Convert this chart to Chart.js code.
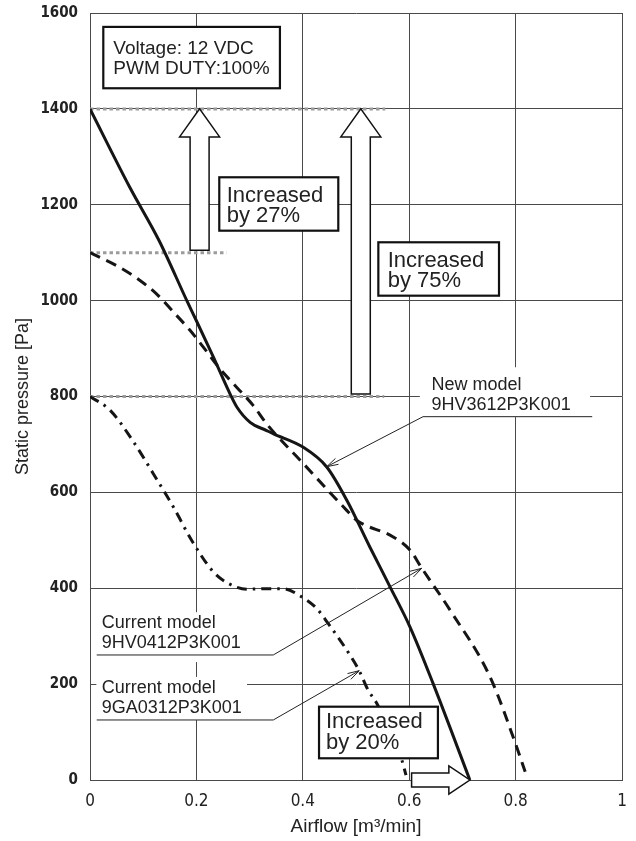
<!DOCTYPE html>
<html>
<head>
<meta charset="utf-8">
<title>Static pressure vs airflow</title>
<script src="https://cdn.jsdelivr.net/npm/chart.js@4.4.0/dist/chart.umd.min.js"></script>
<style>
  html, body { margin: 0; padding: 0; background: #fff; }
  canvas { display: block; }
</style>
</head>
<body>
<canvas id="pq-chart" width="636" height="841"></canvas>
<script>
// Axis ticks
const xTicks = [0, 0.2, 0.4, 0.6, 0.8, 1];
const yTicks = [0, 200, 400, 600, 800, 1000, 1200, 1400, 1600];

// New model 9HV3612P3K001 (solid)
const newModelFlow = [0, 0.075, 0.13, 0.182, 0.2, 0.232, 0.263, 0.276, 0.301, 0.332, 0.345, 0.401, 0.445, 0.483, 0.526, 0.564, 0.602, 0.645, 0.714];
const newModelPressure = [1400, 1236, 1125, 1000, 958, 882, 806, 778, 746, 729, 722, 694, 653, 583, 486, 403, 318, 201, 0];

// Current model 9HV0412P3K001 (dashed)
const hvCurrentFlow = [0, 0.05, 0.094, 0.125, 0.157, 0.188, 0.213, 0.244, 0.276, 0.307, 0.332, 0.401, 0.483, 0.501, 0.57, 0.602, 0.623, 0.677, 0.752, 0.802, 0.818];
const hvCurrentPressure = [1100, 1073, 1042, 1014, 976, 938, 903, 858, 819, 781, 743, 660, 562, 542, 507, 479, 443, 354, 215, 69, 17];

// Current model 9GA0312P3K001 (dash-dot)
const gaCurrentFlow = [0, 0.038, 0.082, 0.119, 0.157, 0.191, 0.232, 0.26, 0.295, 0.332, 0.363, 0.395, 0.426, 0.448, 0.468, 0.489, 0.506, 0.523, 0.539, 0.586, 0.594];
const gaCurrentPressure = [800, 771, 705, 639, 569, 500, 434, 410, 398, 399, 399, 384, 358, 326, 295, 260, 228, 187, 160, 42, 10];

// Reference pressures marked with grey dotted lines: [pressure, flow where the line stops]
const guideLines = [[1400, 0.555], [1100, 0.257], [800, 0.553]];

const labelFont = '"Liberation Sans", Arial, sans-serif';
const tickFont = '"Liberation Sans Narrow", "DejaVu Sans Condensed", "Liberation Sans", sans-serif';

function toPoints(xs, ys) {
    return xs.map((v, i) => ({ x: v, y: ys[i] }));
}

// Annotations, anchored in data units
const modelLabels = [
    { lines: ['New model', '9HV3612P3K001'], x: 0.642, base: [813.6, 771.8], bg: [0.62, 0.94, 861, 757],
      line: [0.626, 0.944, 757.9], target: [0.445, 653.6] },
    { lines: ['Current model', '9HV0412P3K001'], x: 0.022, base: [316.4, 274.7], bg: [0.012, 0.30, 350, 246],
      line: [0.0126, 0.3445, 260.8], target: [0.6235, 441.6] },
    { lines: ['Current model', '9GA0312P3K001'], x: 0.022, base: [180.9, 139.1], bg: [0.012, 0.2951, 215, 125],
      line: [0.0126, 0.3445, 125.2], target: [0.506, 228] }
];

const textBoxes = [
    { lines: ['Voltage: 12 VDC', 'PWM DUTY:100%'], box: [0.025, 0.357, 1571, 1443], x: 0.0438, base: [1514.5, 1472.8], size: 19 },
    { lines: ['Increased', 'by 27%'], box: [0.243, 0.4667, 1257.3, 1145.9], x: 0.257, base: [1205.1, 1163.4], size: 22 },
    { lines: ['Increased', 'by 75%'], box: [0.542, 0.7688, 1121.7, 1010.3], x: 0.5596, base: [1069.5, 1029], size: 22 },
    { lines: ['Increased', 'by 20%'], box: [0.4305, 0.654, 152.9, 45.3], x: 0.4436, base: [107.8, 64], size: 22 }
];

const upArrows = [
    { x: 0.206, from: 1105, to: 1400 },
    { x: 0.509, from: 805, to: 1400 }
];
const rightArrows = [
    { y: 0, from: 0.6045, to: 0.714 }
];

function drawUpArrow(ctx, cx, yBase, yTip) {
    const sw = 9.5, hw = 20, hl = 28;
    ctx.beginPath();
    ctx.moveTo(cx - sw, yBase);
    ctx.lineTo(cx - sw, yTip + hl);
    ctx.lineTo(cx - hw, yTip + hl);
    ctx.lineTo(cx, yTip);
    ctx.lineTo(cx + hw, yTip + hl);
    ctx.lineTo(cx + sw, yTip + hl);
    ctx.lineTo(cx + sw, yBase);
    ctx.closePath();
    ctx.fill();
    ctx.stroke();
}

function drawRightArrow(ctx, cy, xBase, xTip) {
    const sh = 7, hh = 14, hl = 21;
    ctx.beginPath();
    ctx.moveTo(xBase, cy - sh);
    ctx.lineTo(xTip - hl, cy - sh);
    ctx.lineTo(xTip - hl, cy - hh);
    ctx.lineTo(xTip, cy);
    ctx.lineTo(xTip - hl, cy + hh);
    ctx.lineTo(xTip - hl, cy + sh);
    ctx.lineTo(xBase, cy + sh);
    ctx.closePath();
    ctx.fill();
    ctx.stroke();
}

const annotationPlugin = {
    id: 'pqAnnotations',
    beforeDatasetsDraw(chart) {
        const { ctx, scales: { x, y } } = chart;
        ctx.save();
        ctx.strokeStyle = '#9c9c9c';
        ctx.lineWidth = 3;
        ctx.setLineDash([3.5, 3]);
        guideLines.forEach(([p, end]) => {
            ctx.beginPath();
            ctx.moveTo(x.getPixelForValue(0), y.getPixelForValue(p));
            ctx.lineTo(x.getPixelForValue(end), y.getPixelForValue(p));
            ctx.stroke();
        });
        ctx.restore();
    },
    afterDatasetsDraw(chart) {
        const { ctx, scales: { x, y } } = chart;
        ctx.save();

        // model labels with leader lines
        modelLabels.forEach(l => {
            ctx.fillStyle = '#fff';
            const bx = x.getPixelForValue(l.bg[0]), by = y.getPixelForValue(l.bg[2]);
            ctx.fillRect(bx, by, x.getPixelForValue(l.bg[1]) - bx, y.getPixelForValue(l.bg[3]) - by);
            ctx.fillStyle = '#222';
            ctx.font = '18px ' + labelFont;
            ctx.textBaseline = 'alphabetic';
            ctx.textAlign = 'left';
            l.lines.forEach((t, i) => ctx.fillText(t, x.getPixelForValue(l.x), y.getPixelForValue(l.base[i])));

            const ux0 = x.getPixelForValue(l.line[0]);
            const ux1 = x.getPixelForValue(l.line[1]);
            const uy = y.getPixelForValue(l.line[2]);
            const tx = x.getPixelForValue(l.target[0]);
            const ty = y.getPixelForValue(l.target[1]);
            const leftStart = tx < ux0;
            const sx = leftStart ? ux0 : ux1;
            ctx.strokeStyle = '#222';
            ctx.lineWidth = 1;
            ctx.beginPath();
            ctx.moveTo(leftStart ? ux1 : ux0, uy);
            ctx.lineTo(sx, uy);
            ctx.lineTo(tx, ty);
            ctx.stroke();
            // open arrow head at the curve
            const ang = Math.atan2(ty - uy, tx - sx);
            ctx.beginPath();
            [-0.28, 0.28].forEach(d => {
                ctx.moveTo(tx, ty);
                ctx.lineTo(tx - 12 * Math.cos(ang + d), ty - 12 * Math.sin(ang + d));
            });
            ctx.stroke();
        });

        // hollow arrows
        ctx.fillStyle = '#fff';
        ctx.strokeStyle = '#111';
        ctx.lineWidth = 1.5;
        upArrows.forEach(a => drawUpArrow(ctx, x.getPixelForValue(a.x), y.getPixelForValue(a.from), y.getPixelForValue(a.to)));
        rightArrows.forEach(a => drawRightArrow(ctx, y.getPixelForValue(a.y), x.getPixelForValue(a.from), x.getPixelForValue(a.to)));

        // framed text boxes
        textBoxes.forEach(b => {
            const x0 = x.getPixelForValue(b.box[0]), y0 = y.getPixelForValue(b.box[2]);
            const w = x.getPixelForValue(b.box[1]) - x0, h = y.getPixelForValue(b.box[3]) - y0;
            ctx.fillStyle = '#fff';
            ctx.fillRect(x0, y0, w, h);
            ctx.strokeStyle = '#111';
            ctx.lineWidth = 2.2;
            ctx.strokeRect(x0, y0, w, h);
            ctx.fillStyle = '#222';
            ctx.font = b.size + 'px ' + labelFont;
            ctx.textAlign = 'left';
            ctx.textBaseline = 'alphabetic';
            b.lines.forEach((t, i) => ctx.fillText(t, x.getPixelForValue(b.x), y.getPixelForValue(b.base[i])));
        });

        ctx.restore();
    }
};

const lineStyle = {
    borderColor: '#151515',
    borderWidth: 3,
    pointRadius: 0,
    fill: false,
    borderCapStyle: 'butt',
    cubicInterpolationMode: 'monotone'
};

new Chart(document.getElementById('pq-chart'), {
    type: 'line',
    data: {
        datasets: [
            { ...lineStyle, label: 'New model 9HV3612P3K001', data: toPoints(newModelFlow, newModelPressure) },
            { ...lineStyle, label: 'Current model 9HV0412P3K001', data: toPoints(hvCurrentFlow, hvCurrentPressure), borderDash: [11, 7] },
            { ...lineStyle, label: 'Current model 9GA0312P3K001', data: toPoints(gaCurrentFlow, gaCurrentPressure), borderDash: [10, 6, 2.5, 6] }
        ]
    },
    options: {
        responsive: false,
        animation: false,
        devicePixelRatio: 1,
        layout: { padding: { top: 13, right: 14, bottom: 0, left: 0 } },
        plugins: { legend: { display: false }, tooltip: { enabled: false } },
        scales: {
            x: {
                type: 'linear', min: 0, max: 1,
                afterBuildTicks: s => { s.ticks = xTicks.map(v => ({ value: v })); },
                afterFit: s => { s.height = 61; s.paddingLeft = 0; s.paddingRight = 0; },
                grid: { color: '#4a4a4a', lineWidth: 1, drawTicks: false },
                border: { color: '#4a4a4a', width: 1 },
                ticks: { padding: 11, color: '#222', maxRotation: 0, font: { family: tickFont, size: 17 }, callback: v => String(v) },
                title: { display: true, text: 'Airflow [m³/min]', color: '#222', font: { family: labelFont, size: 19 }, padding: { top: 0, bottom: 3 } }
            },
            y: {
                type: 'linear', min: 0, max: 1600,
                afterBuildTicks: s => { s.ticks = yTicks.map(v => ({ value: v })); },
                afterFit: s => { s.width = 90; s.paddingTop = 0; s.paddingBottom = 0; },
                grid: { color: '#4a4a4a', lineWidth: 1, drawTicks: false },
                border: { color: '#4a4a4a', width: 1 },
                ticks: { padding: 12, color: '#222', font: { family: tickFont, size: 15, weight: 'bold' }, callback: v => String(v) },
                title: { display: true, text: 'Static pressure [Pa]', color: '#222', font: { family: labelFont, size: 18 }, padding: { top: 12, bottom: 0 } }
            }
        }
    },
    plugins: [annotationPlugin]
});
</script>
</body>
</html>
